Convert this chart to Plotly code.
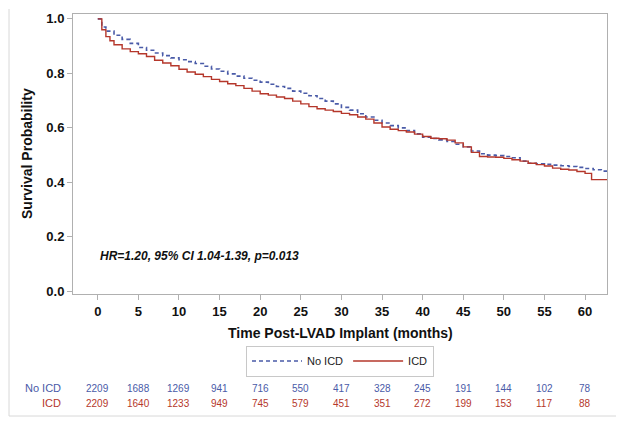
import plotly.graph_objects as go

# Kaplan-Meier estimates
no_icd_t = [0, 0.5, 1, 2, 3, 4, 5, 6, 7, 8, 9, 10, 11, 12, 13, 14, 15, 16, 17, 18, 19, 20,
            21, 22, 23, 24, 25, 26, 27, 28, 29, 30, 31, 32, 33, 34, 35, 36, 37, 38, 39, 40,
            41, 42, 43, 44, 45, 46, 47, 48, 49, 50, 51, 52, 53, 54, 55, 56, 57, 58, 59, 60,
            61, 62, 62.7]
no_icd_s = [1.0, 0.97, 0.955, 0.94, 0.925, 0.91, 0.895, 0.885, 0.875, 0.865, 0.857, 0.85,
            0.843, 0.836, 0.826, 0.816, 0.808, 0.798, 0.79, 0.782, 0.775, 0.768, 0.76, 0.752,
            0.745, 0.735, 0.727, 0.718, 0.708, 0.698, 0.688, 0.675, 0.665, 0.652, 0.64, 0.628,
            0.618, 0.608, 0.6, 0.59, 0.578, 0.566, 0.561, 0.556, 0.55, 0.54, 0.53, 0.515,
            0.505, 0.5, 0.498, 0.495, 0.49, 0.478, 0.47, 0.468, 0.466, 0.463, 0.461, 0.458,
            0.455, 0.451, 0.446, 0.441, 0.437]

icd_t = [0, 0.5, 1, 1.5, 2, 3, 4, 5, 6, 7, 8, 9, 10, 11, 12, 13, 14, 15, 16, 17, 18, 19, 20,
         21, 22, 23, 24, 25, 26, 27, 28, 29, 30, 31, 32, 33, 34, 35, 36, 37, 38, 39, 40,
         41, 42, 43, 44, 45, 46, 47, 48, 49, 50, 51, 52, 53, 54, 55, 56, 57, 58, 59, 60,
         60.8, 62.7]
icd_s = [1.0, 0.96, 0.935, 0.92, 0.905, 0.89, 0.88, 0.872, 0.862, 0.848, 0.838, 0.828,
         0.815, 0.805, 0.797, 0.788, 0.778, 0.77, 0.762, 0.755, 0.745, 0.735, 0.725, 0.72,
         0.713, 0.708, 0.698, 0.688, 0.678, 0.67, 0.665, 0.66, 0.653, 0.648, 0.64, 0.632,
         0.618, 0.603, 0.595, 0.59, 0.585, 0.577, 0.568, 0.562, 0.56, 0.555, 0.545, 0.53,
         0.51, 0.495, 0.493, 0.492, 0.488, 0.483, 0.478, 0.47, 0.465, 0.46, 0.452, 0.448,
         0.445, 0.44, 0.433, 0.41, 0.41]

risk_times = [0, 5, 10, 15, 20, 25, 30, 35, 40, 45, 50, 55, 60]
risk_no_icd = [2209, 1688, 1269, 941, 716, 550, 417, 328, 245, 191, 144, 102, 78]
risk_icd = [2209, 1640, 1233, 949, 745, 579, 451, 351, 272, 199, 153, 117, 88]

x_ticks = [0, 5, 10, 15, 20, 25, 30, 35, 40, 45, 50, 55, 60]
y_ticks = [0.0, 0.2, 0.4, 0.6, 0.8, 1.0]

BLUE = "#4a5ba8"
RED = "#b5372b"
FONT = "Liberation Sans, Arial, sans-serif"

# page body has an 8px margin, so the figure is laid out in a 616x417 box
PX0, PY0 = 73, 294      # plot-area left / bottom in page pixels
PW, PH = 534, 280       # plot-area size


def px(x):
    return (x - PX0) / PW


def py(y):
    return (PY0 - y) / PH


fig = go.Figure()
fig.add_trace(go.Scatter(x=no_icd_t, y=no_icd_s, mode="lines", name="No ICD",
                         line=dict(color=BLUE, width=1.6, dash="4px,3px", shape="hv")))
fig.add_trace(go.Scatter(x=icd_t, y=icd_s, mode="lines", name="ICD",
                         line=dict(color=RED, width=1.4, shape="hv")))

ann = []
ann.append(dict(x=0, y=0.13, xref="x", yref="y", xanchor="left", yanchor="middle",
                text="<b><i>HR=1.20, 95% CI 1.04-1.39, p=0.013</i></b>", showarrow=False,
                font=dict(family=FONT, size=12, color="#111")))
ann.append(dict(x=px(340), y=py(333), xref="paper", yref="paper", xanchor="center", yanchor="middle",
                text="<b>Time Post-LVAD Implant (months)</b>", showarrow=False,
                font=dict(family=FONT, size=14, color="#111")))
ann.append(dict(x=px(27), y=0.5, xref="paper", yref="paper", xanchor="center", yanchor="middle",
                text="<b>Survival Probability</b>", textangle=-90, showarrow=False,
                font=dict(family=FONT, size=14, color="#111")))
row1 = py(388)
row2 = py(403)
ann.append(dict(x=px(63), y=row1, xref="paper", yref="paper", xanchor="right", yanchor="middle",
                text="No ICD", showarrow=False, font=dict(family=FONT, size=11, color=BLUE)))
ann.append(dict(x=px(63), y=row2, xref="paper", yref="paper", xanchor="right", yanchor="middle",
                text="ICD", showarrow=False, font=dict(family=FONT, size=11, color=RED)))
for t, a, b in zip(risk_times, risk_no_icd, risk_icd):
    ann.append(dict(x=t, y=row1, xref="x", yref="paper", xanchor="center", yanchor="middle",
                    text=str(a), showarrow=False, font=dict(family=FONT, size=10, color=BLUE)))
    ann.append(dict(x=t, y=row2, xref="x", yref="paper", xanchor="center", yanchor="middle",
                    text=str(b), showarrow=False, font=dict(family=FONT, size=10, color=RED)))

border = dict(color="#d8d8d8", width=1)
shapes = [
    dict(type="line", xref="paper", yref="paper", x0=px(9), x1=px(9), y0=py(416), y1=py(9), line=border),
    dict(type="line", xref="paper", yref="paper", x0=px(617), x1=px(617), y0=py(416), y1=py(9), line=border),
    dict(type="line", xref="paper", yref="paper", x0=px(9), x1=px(617), y0=py(416), y1=py(416), line=border),
]

fig.update_layout(
    width=616, height=417,
    margin=dict(l=PX0 - 8, r=616 + 8 - PX0 - PW, t=PY0 - PH - 8, b=417 + 8 - PY0, autoexpand=False),
    paper_bgcolor="white", plot_bgcolor="white",
    showlegend=True,
    legend=dict(orientation="h", x=px(340), xanchor="center", y=py(361), yanchor="middle",
                bordercolor="#c8c8c8", borderwidth=1, bgcolor="white",
                font=dict(family=FONT, size=11, color="#222"),
                itemwidth=50, tracegroupgap=0),
    annotations=ann,
    shapes=shapes,
    xaxis=dict(range=[-3.05, 62.7], tickvals=x_ticks, ticktext=[f"<b>{v}</b>" for v in x_ticks],
               showgrid=False, zeroline=False, showline=True, linecolor="#b0b0b0", linewidth=1,
               mirror=True, ticks="outside", ticklen=5, tickcolor="#b0b0b0",
               tickfont=dict(family=FONT, size=13, color="#111")),
    yaxis=dict(range=[-0.01, 1.018], tickvals=y_ticks, ticktext=[f"<b>{v:.1f}</b>" for v in y_ticks],
               showgrid=False, zeroline=False, showline=True, linecolor="#b0b0b0", linewidth=1,
               mirror=True, ticks="outside", ticklen=5, tickcolor="#b0b0b0",
               tickfont=dict(family=FONT, size=13, color="#111")),
)

fig.write_html("out.html")
